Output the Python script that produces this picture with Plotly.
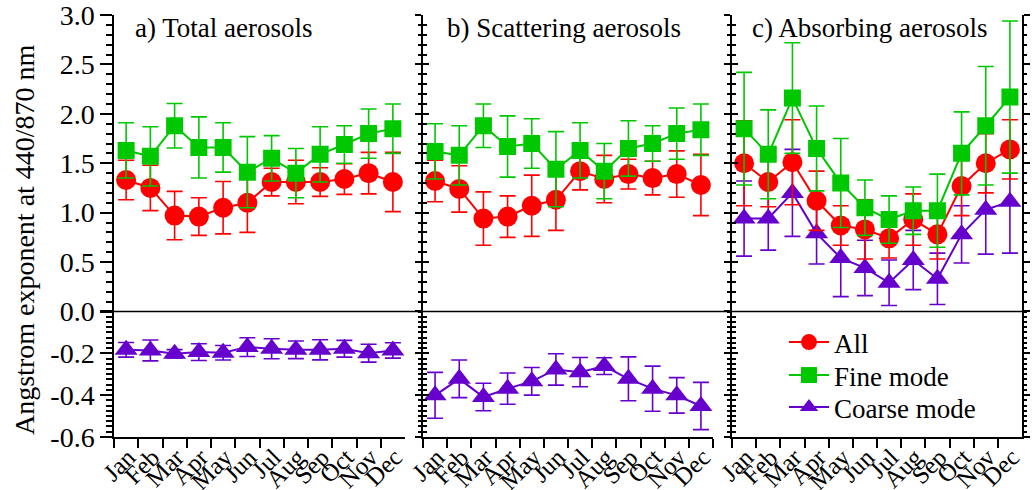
import plotly.graph_objects as go

months = ["Jan", "Feb", "Mar", "Apr", "May", "Jun", "Jul", "Aug", "Sep", "Oct", "Nov", "Dec"]

# a) Total aerosols
a_all = [1.33, 1.25, 0.97, 0.96, 1.05, 1.10, 1.31, 1.31, 1.31, 1.34, 1.40, 1.31]
a_all_err = [0.20, 0.23, 0.245, 0.19, 0.265, 0.30, 0.14, 0.22, 0.145, 0.155, 0.21, 0.30]
a_fine = [1.63, 1.57, 1.88, 1.66, 1.66, 1.41, 1.55, 1.40, 1.59, 1.69, 1.80, 1.85]
a_fine_err = [0.28, 0.30, 0.225, 0.31, 0.25, 0.36, 0.23, 0.25, 0.28, 0.19, 0.25, 0.25]
a_coarse = [-0.183, -0.186, -0.202, -0.194, -0.197, -0.170, -0.178, -0.183, -0.183, -0.178, -0.199, -0.186]
a_coarse_err = [0.035, 0.05, 0.02, 0.04, 0.035, 0.045, 0.048, 0.042, 0.048, 0.04, 0.043, 0.037]

# b) Scattering aerosols
b_all = [1.32, 1.24, 0.94, 0.96, 1.07, 1.13, 1.42, 1.34, 1.39, 1.35, 1.39, 1.28]
b_all_err = [0.21, 0.235, 0.27, 0.21, 0.31, 0.31, 0.19, 0.24, 0.15, 0.17, 0.235, 0.31]
b_fine = [1.62, 1.58, 1.88, 1.67, 1.70, 1.44, 1.63, 1.42, 1.65, 1.70, 1.80, 1.84]
b_fine_err = [0.28, 0.30, 0.22, 0.31, 0.25, 0.38, 0.28, 0.28, 0.28, 0.18, 0.26, 0.26]
b_coarse = [-0.401, -0.322, -0.409, -0.369, -0.334, -0.277, -0.290, -0.261, -0.322, -0.369, -0.401, -0.452]
b_coarse_err = [0.11, 0.09, 0.066, 0.075, 0.066, 0.075, 0.07, 0.04, 0.105, 0.108, 0.085, 0.113]

# c) Absorbing aerosols
c_all = [1.50, 1.31, 1.51, 1.12, 0.87, 0.83, 0.74, 0.93, 0.78, 1.27, 1.50, 1.64]
c_all_err = [0.43, 0.25, 0.43, 0.30, 0.20, 0.30, 0.20, 0.26, 0.25, 0.30, 0.30, 0.30]
c_fine = [1.85, 1.59, 2.16, 1.65, 1.30, 1.05, 0.93, 1.02, 1.02, 1.60, 1.88, 2.17]
c_fine_err = [0.57, 0.45, 0.56, 0.43, 0.45, 0.28, 0.24, 0.24, 0.37, 0.42, 0.60, 0.77]
c_coarse = [0.94, 0.94, 1.20, 0.79, 0.54, 0.44, 0.29, 0.52, 0.33, 0.78, 1.03, 1.11]
c_coarse_err = [0.38, 0.32, 0.44, 0.31, 0.39, 0.28, 0.23, 0.30, 0.26, 0.29, 0.45, 0.52]

panel_titles = ["a) Total aerosols", "b) Scattering aerosols", "c) Absorbing aerosols"]
series_names = ["All", "Fine mode", "Coarse mode"]
y_title = "Angstrom exponent at 440/870 nm"
top_ticks = [0.0, 0.5, 1.0, 1.5, 2.0, 2.5, 3.0]
bottom_ticks = [-0.6, -0.4, -0.2, 0.0]
bottom_ticktext = ["-0.6", "-0.4", "-0.2", ""]

W, H = 1032, 490
FONT = "Liberation Serif, Times New Roman, Times, DejaVu Serif, serif"
RED, GREEN, PURPLE = "#ff0000", "#00c800", "#6600cc"
styles = {
    "All": dict(color=RED, symbol="circle", size=20),
    "Fine mode": dict(color=GREEN, symbol="square", size=17),
    "Coarse mode": dict(color=PURPLE, symbol="triangle-up", size=20),
}
legend_of = {"All": "legend", "Fine mode": "legend2", "Coarse mode": "legend3"}


def fx(px):
    return px / W


def fy(py):
    return 1 - py / H


cols = [(114, 405), (423, 713), (732, 1022)]
top_row = (fy(311.5), fy(15))
bot_row = (fy(437), fy(311.5))

fig = go.Figure()


def add_series(name, y, err, xa, ya, show):
    st = styles[name]
    fig.add_trace(go.Scatter(
        x=months, y=y, name=name, mode="lines+markers",
        xaxis=xa, yaxis=ya, showlegend=show, legend=legend_of[name],
        line=dict(color=st["color"], width=2),
        marker=dict(color=st["color"], symbol=st["symbol"], size=st["size"], line=dict(width=0)),
        error_y=dict(type="data", array=err, visible=True, color=st["color"], thickness=1.6, width=8),
    ))


# panel a: coarse in bottom
add_series("Coarse mode", a_coarse, a_coarse_err, "x4", "y4", True)
add_series("All", a_all, a_all_err, "x", "y", True)
add_series("Fine mode", a_fine, a_fine_err, "x", "y", True)
# panel b
add_series("Coarse mode", b_coarse, b_coarse_err, "x5", "y5", False)
add_series("All", b_all, b_all_err, "x2", "y2", False)
add_series("Fine mode", b_fine, b_fine_err, "x2", "y2", False)
# panel c: coarse in top
add_series("Coarse mode", c_coarse, c_coarse_err, "x3", "y3", False)
add_series("All", c_all, c_all_err, "x3", "y3", False)
add_series("Fine mode", c_fine, c_fine_err, "x3", "y3", False)

# empty helper traces so overlay axes are rendered
for xa, ya in [("x2", "y7"), ("x5", "y8"), ("x3", "y9"), ("x6", "y10"), ("x6", "y6")]:
    fig.add_trace(go.Scatter(x=[], y=[], xaxis=xa, yaxis=ya, showlegend=False, hoverinfo="skip"))

layout = dict(
    width=W, height=H, margin=dict(l=0, r=0, t=0, b=0),
    paper_bgcolor="white", plot_bgcolor="rgba(0,0,0,0)",
    font=dict(family=FONT, color="black", size=22),
    showlegend=True,
)
# one legend per item so that the vertical spacing matches the reference
legend_tops = {"legend": 318, "legend2": 351, "legend3": 383}
for key, top in legend_tops.items():
    layout[key] = dict(x=fx(784), y=fy(top), xanchor="left", yanchor="top",
                       font=dict(family=FONT, size=27, color="black"),
                       bgcolor="rgba(0,0,0,0)", itemwidth=40)

LW = 1.5
TOP_RANGE = [-0.001, 3.001]
BOT_RANGE = [-0.6005, 0.0005]
for i, (x0, x1) in enumerate(cols):
    top_idx = i + 1
    bot_idx = i + 4
    for idx, row in [(top_idx, top_row), (bot_idx, bot_row)]:
        xk = "xaxis" if idx == 1 else f"xaxis{idx}"
        yk_name = "y" if idx == 1 else f"y{idx}"
        base = dict(domain=[fx(x0), fx(x1)], anchor=yk_name, type="category",
                    categoryarray=months, range=[-0.5, 11.5], showgrid=False, zeroline=False,
                    automargin=False, fixedrange=True)
        if idx <= 3:
            base.update(showline=False, ticks="", showticklabels=False)
        else:
            base.update(showline=True, linecolor="black", linewidth=LW, ticks="outside",
                        tickmode="linear", tick0=0, dtick=1, ticklabeloverflow="allow",
                        ticklen=9, tickwidth=LW, tickcolor="black", tickson="boundaries",
                        ticklabelstandoff=-6, ticklabelshift=2,
                        tickangle=-45, tickfont=dict(family=FONT, size=25, color="black"))
        layout[xk] = base

    # y axes
    for idx, row, rng in [(top_idx, top_row, TOP_RANGE), (bot_idx, bot_row, BOT_RANGE)]:
        yk = "yaxis" if idx == 1 else f"yaxis{idx}"
        xname = "x" if idx == 1 else f"x{idx}"
        is_top = idx <= 3
        ax = dict(domain=list(row), anchor=xname, range=rng, showgrid=False, zeroline=False,
                  showline=True, linecolor="black", linewidth=LW, automargin=False, fixedrange=True,
                  tickcolor="black", tickwidth=LW, tickmode="array", ticklabeloverflow="allow",
                  tickvals=top_ticks if is_top else bottom_ticks)
        if is_top:
            ax["ticktext"] = [f"{v:.1f}" for v in top_ticks]
        else:
            ax["ticktext"] = bottom_ticktext
        minor_dt = 0.1 if is_top else 0.025
        if i == 0:
            ax.update(ticks="outside", ticklen=12, showticklabels=True,
                      tickfont=dict(family=FONT, size=28, color="black"),
                      minor=dict(tickmode="linear", tick0=0, dtick=minor_dt, ticks="outside",
                                 ticklen=6, tickwidth=LW, tickcolor="black"))
        else:
            ax.update(ticks="outside", ticklen=6, showticklabels=False,
                      minor=dict(tickmode="linear", tick0=0, dtick=minor_dt, ticks="outside",
                                 ticklen=3.5, tickwidth=LW, tickcolor="black"))
            if i == 2:
                ax["mirror"] = "ticks"
        layout[yk] = ax

# overlay axes with inside ticks (crossing ticks) for panels b and c
overlays = [("yaxis7", "y2", "x2", TOP_RANGE, top_ticks, 0.1),
            ("yaxis8", "y5", "x5", BOT_RANGE, bottom_ticks, 0.025),
            ("yaxis9", "y3", "x3", TOP_RANGE, top_ticks, 0.1),
            ("yaxis10", "y6", "x6", BOT_RANGE, bottom_ticks, 0.025)]
for key, over, anc, rng, tv, mdt in overlays:
    layout[key] = dict(overlaying=over, anchor=anc, side="left", range=rng, showgrid=False,
                       zeroline=False, showline=False, showticklabels=False, automargin=False,
                       fixedrange=True, ticks="inside", ticklen=6, tickwidth=LW, tickcolor="black",
                       tickmode="array", tickvals=tv,
                       minor=dict(tickmode="linear", tick0=0, dtick=mdt, ticks="inside",
                                  ticklen=3.5, tickwidth=LW, tickcolor="black"))

fig.update_layout(**layout)

# continuous zero line across all panels (paper coordinates so it is not clipped)
fig.add_shape(type="line", xref="paper", yref="paper", x0=fx(114), x1=fx(1022),
              y0=top_row[0], y1=top_row[0], line=dict(color="black", width=LW))

# panel titles
title_x = [133, 445, 750]
for t, px in zip(panel_titles, title_x):
    fig.add_annotation(text=t, xref="paper", yref="paper", x=fx(px), y=fy(28),
                       xanchor="left", yanchor="middle", showarrow=False,
                       font=dict(family=FONT, size=27, color="black"))

# y-axis title
fig.add_annotation(text=y_title, xref="paper", yref="paper", x=fx(24), y=fy(240),
                   xanchor="center", yanchor="middle", textangle=-90, showarrow=False,
                   font=dict(family=FONT, size=28, color="black"))

fig.write_html("out.html", config={"displayModeBar": False},
               post_script="document.body.style.margin='0';document.body.style.padding='0';"
                           "document.body.style.overflow='hidden';")
